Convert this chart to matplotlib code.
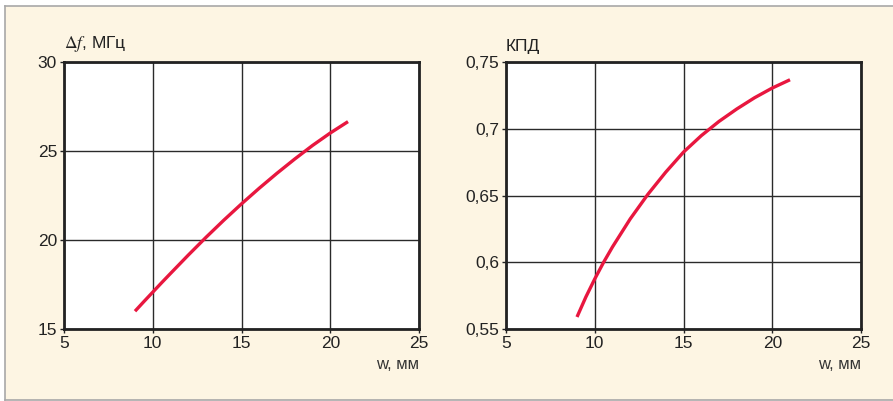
import matplotlib
matplotlib.use('Agg')
import matplotlib.pyplot as plt
from matplotlib.patches import Rectangle
from matplotlib.lines import Line2D

plt.rcParams['font.family'] = ['Liberation Sans Narrow', 'Liberation Sans', 'DejaVu Sans']
plt.rcParams['mathtext.fontset'] = 'stix'

# ширина полоска, мм
w = [9, 9.5, 10, 10.5, 11, 12, 13, 14, 15, 16, 17, 18, 19, 20, 21]
# полоса пропускания, МГц
df = [16.0, 16.54, 17.07, 17.6, 18.12, 19.15, 20.15, 21.11, 22.03, 22.91, 23.75, 24.55, 25.31, 26.01, 26.65]
# КПД
kpd = [0.559, 0.574, 0.5875, 0.600, 0.6115, 0.6325, 0.651, 0.6675, 0.6825, 0.6948, 0.7055,
       0.7148, 0.7232, 0.7305, 0.7367]

x_ticks = [5, 10, 15, 20, 25]
df_ticks = [15, 20, 25, 30]
kpd_ticks = [0.55, 0.6, 0.65, 0.7, 0.75]
kpd_labels = ['0,55', '0,6', '0,65', '0,7', '0,75']

W, H = 893, 401
fig = plt.figure(figsize=(W / 100, H / 100), dpi=100, facecolor='white')

# кремовая подложка, рамка сверху, слева и снизу
x0, y0, y1 = 4.5 / W, 1.5 / H, 1 - 5.5 / H
fig.patches.append(Rectangle((x0, y0), 1.0, y1 - y0, transform=fig.transFigure,
                             facecolor='#fdf5e3', edgecolor='none', zorder=-5))
for xs, ys in [([x0, 1], [y1, y1]), ([x0, x0], [y0, y1]), ([x0, 1], [y0, y0])]:
    fig.lines.append(Line2D(xs, ys, transform=fig.transFigure, color='#a8a8a8',
                            linewidth=1.2, zorder=-4))

red = '#e8173f'


def setup(ax, yticks, ylabels, ylim):
    ax.set_facecolor('white')
    ax.set_xlim(5, 25)
    ax.set_ylim(*ylim)
    ax.set_xticks(x_ticks)
    ax.set_yticks(yticks)
    ax.set_yticklabels(ylabels)
    ax.grid(True, color='#2a2a2a', linewidth=1.0)
    ax.set_axisbelow(True)
    for s in ax.spines.values():
        s.set_linewidth(2.0)
        s.set_color('#222222')
    ax.tick_params(direction='out', length=3, width=1, color='#222222',
                   labelsize=12.5, labelcolor='#222222', pad=2)
    ax.text(1.0, -0.105, 'w, мм', transform=ax.transAxes, ha='right', va='top',
            fontsize=12, color='#333333')


ax1 = fig.add_axes([64 / W, 1 - 329 / H, 355 / W, 267 / H])
setup(ax1, df_ticks, [str(t) for t in df_ticks], (15, 30))
ax1.plot(w, df, color=red, linewidth=2.4, solid_capstyle='butt', zorder=3)
ax1.text(0.0, 1.03, r'$\mathit{\Delta f}$, МГц', transform=ax1.transAxes, ha='left',
         va='bottom', fontsize=12.5, color='#222222')

ax2 = fig.add_axes([506 / W, 1 - 329 / H, 355 / W, 267 / H])
setup(ax2, kpd_ticks, kpd_labels, (0.55, 0.75))
ax2.plot(w, kpd, color=red, linewidth=2.4, solid_capstyle='butt', zorder=3)
ax2.text(0.0, 1.03, 'КПД', transform=ax2.transAxes, ha='left', va='bottom',
         fontsize=12.5, color='#222222')

fig.savefig('out.png', dpi=100, facecolor=fig.get_facecolor())
